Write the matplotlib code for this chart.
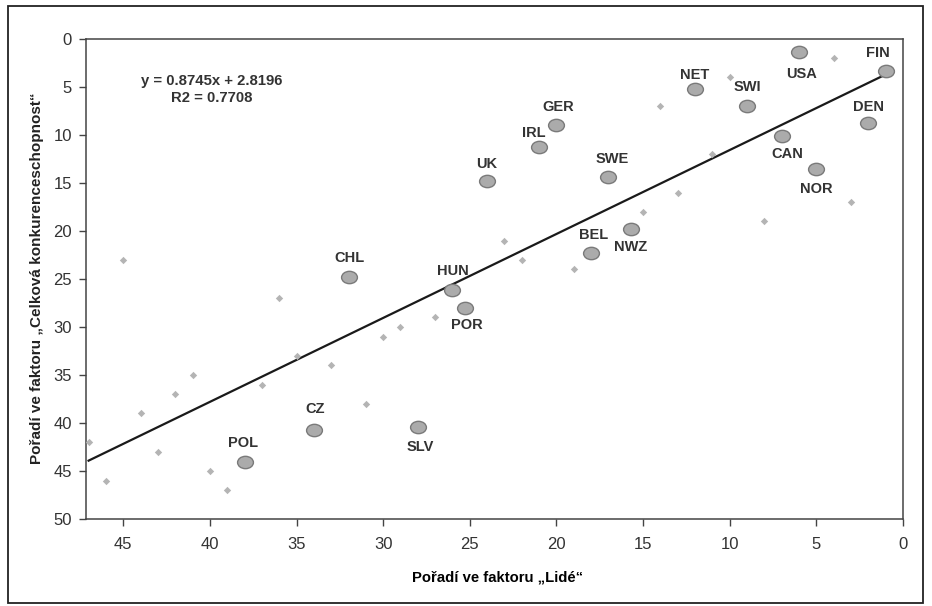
import matplotlib.pyplot as plt
from matplotlib.path import Path
from matplotlib.patches import Rectangle
from matplotlib.transforms import Affine2D

plt.rcParams['font.family'] = ['Liberation Sans', 'DejaVu Sans']

# labelled countries (x = rank in "Lidé", y = overall competitiveness rank)
countries = ['FIN', 'USA', 'NET', 'SWI', 'DEN', 'CAN', 'NOR', 'GER', 'IRL', 'UK',
             'SWE', 'NWZ', 'BEL', 'CHL', 'HUN', 'POR', 'POL', 'CZ', 'SLV']
lide = [1, 6, 12, 9, 2, 7, 5, 20, 21, 24, 17, 15.7, 18, 32, 26, 25.3, 38, 34, 28]
celkova = [3.3, 1.4, 5.2, 7, 8.8, 10.1, 13.5, 9, 11.2, 14.8, 14.4, 19.8, 22.3,
           24.8, 26.1, 28, 44.1, 40.7, 40.4]
# label offsets in pixels
label_dx = [-8, 3, 0, 0, 0, 6, 0, 2, -5, 0, 4, 0, 3, 1, 0, 2, -1, 1, 2]
label_dy = [18, -22, 14, 19, 16, -18, -20, 18, 14, 17, 18, -18, 18, 19, 19, -17, 19, 21, -20]

# other (unlabelled) countries
other_x = [47, 46, 45, 44, 43, 42, 41, 40, 39, 37, 36, 35, 33, 31, 30, 29, 27,
           23, 22, 19, 15, 14, 13, 11, 10, 8, 4, 3]
other_y = [42, 46, 23, 39, 43, 37, 35, 45, 47, 36, 27, 33, 34, 38, 31, 30, 29,
           21, 23, 24, 18, 7, 16, 12, 4, 19, 2, 17]

slope = 0.8745
intercept = 2.8196

fig = plt.figure(figsize=(9.32, 6.06), dpi=100)
ax = fig.add_axes([86 / 932, 1 - 519 / 606, 817 / 932, 480 / 606])

# outer frame round the whole chart
fig.patches.append(Rectangle((8 / 932, 1 - 603 / 606), 915 / 932, 597 / 606,
                             transform=fig.transFigure, fill=False,
                             edgecolor='#222222', linewidth=1.3))

# regression line over the data range
all_x = lide + other_x
x0, x1 = min(all_x), max(all_x)
ax.plot([x0, x1], [slope * x0 + intercept, slope * x1 + intercept],
        color='#1a1a1a', linewidth=1.6, zorder=2)

ax.scatter(other_x, other_y, marker='D', s=14, color='#b4b4b4', linewidths=0, zorder=3)

ellipse = Path.unit_circle().transformed(Affine2D().scale(1.0, 0.78))
ax.scatter(lide, celkova, marker=ellipse, s=130, color='#ababab',
           edgecolors='#7a7a7a', linewidths=1.0, zorder=4)

for name, x, y, dx, dy in zip(countries, lide, celkova, label_dx, label_dy):
    ax.annotate(name, (x, y), xytext=(dx, dy), textcoords='offset pixels',
                ha='center', va='center', fontsize=10.5, fontweight='bold',
                color='#333333', zorder=5)

ax.text(0.154, 0.895, 'y = 0.8745x + 2.8196\nR2 = 0.7708', transform=ax.transAxes,
        ha='center', va='center', fontsize=10.7, fontweight='bold', color='#333333',
        linespacing=1.25)

ax.set_xlim(47.15, 0)
ax.set_ylim(50, 0)
ax.set_xticks([45, 40, 35, 30, 25, 20, 15, 10, 5, 0])
ax.set_yticks([0, 5, 10, 15, 20, 25, 30, 35, 40, 45, 50])
ax.tick_params(axis='x', length=5, width=1, color='#444444', pad=8,
               labelsize=12, labelcolor='#333333')
ax.tick_params(axis='y', length=5, width=1, color='#444444', pad=5,
               labelsize=12, labelcolor='#333333')
for sp in ax.spines.values():
    sp.set_color('#444444')
    sp.set_linewidth(1.1)

fig.text(498 / 932, 1 - 577 / 606, 'Pořadí ve faktoru „Lidé“', ha='center', va='center',
         fontsize=10.7, fontweight='bold', color='black')
fig.text(37 / 932, 1 - 278 / 606, 'Pořadí ve faktoru „Celková konkurenceschopnost“',
         ha='center', va='center', rotation=90, fontsize=11, fontweight='bold',
         color='#222222')

fig.savefig('out.png', dpi=100)
